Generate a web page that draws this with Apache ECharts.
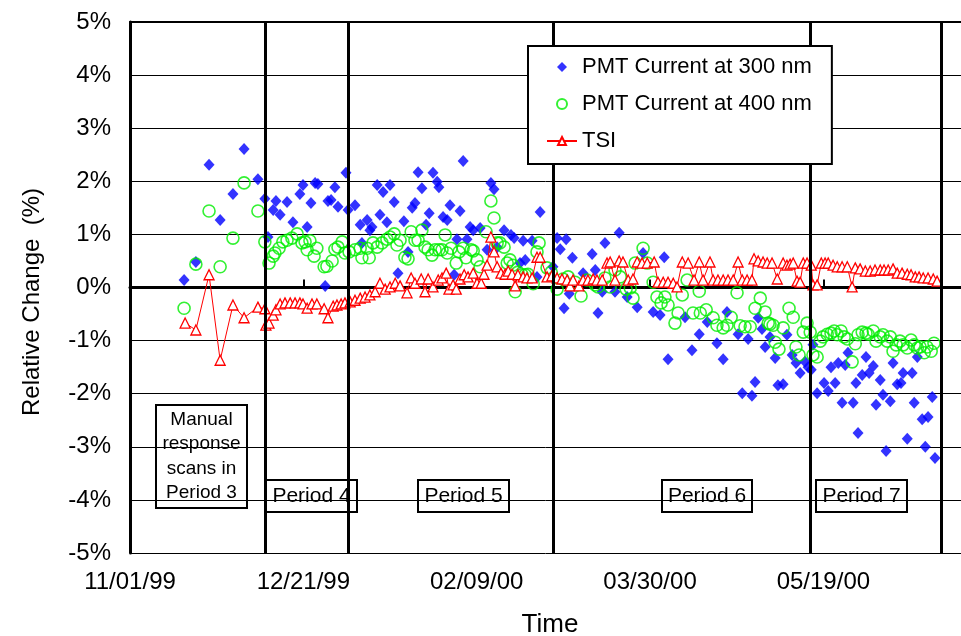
<!DOCTYPE html>
<html>
<head>
<meta charset="utf-8">
<script src="https://cdn.jsdelivr.net/npm/echarts@6/dist/echarts.min.js"></script>
<style>
  html, body { margin: 0; padding: 0; background: #fff; }
  #chart { width: 961px; height: 636px; }
</style>
</head>
<body>
<div id="chart"></div>
<script>
// Time is measured in days since 11/01/99; values are relative change in percent.
const pmt300Days = [15.6,19.0,22.8,26.0,29.7,32.9,36.9,38.9,39.8,41.3,
  42.1,43.3,45.3,47.0,49.0,49.9,51.1,52.2,53.4,54.2,
  56.3,57.1,58.0,59.1,60.0,62.3,62.9,64.9,66.4,66.9,
  68.4,69.2,69.8,71.3,72.1,73.0,74.1,75.0,76.2,77.3,
  79.0,80.2,81.4,82.2,83.1,84.2,85.4,86.3,87.4,88.6,
  89.1,90.3,91.5,92.3,93.5,94.3,95.2,96.1,97.2,98.1,
  99.0,101.0,103.0,104.1,105.0,105.9,107.9,109.9,110.8,112.5,
  113.4,114.0,116.0,117.4,118.3,122.0,123.2,124.1,125.2,125.8,
  126.7,127.6,130.7,133.3,134.2,135.0,136.2,137.0,139.9,141.1,
  143.4,146.3,148.0,150.9,152.9,154.1,155.2,160.1,162.1,164.2,
  166.5,169.3,171.1,172.2,175.4,176.6,178.3,179.4,180.3,181.2,
  182.3,183.2,184.6,186.1,186.9,188.4,189.5,191.0,192.1,193.3,
  194.7,195.6,196.5,197.0,198.2,200.2,201.4,202.2,203.4,204.3,
  205.4,206.3,207.1,208.6,209.4,210.0,211.2,212.3,213.2,214.4,
  215.2,216.4,217.2,218.1,219.3,220.1,221.3,222.4,223.0,224.2,
  225.6,226.2,227.1,228.5,229.4,230.2,231.4,232.2];
const pmt300Values = [0.14,0.48,2.31,1.27,1.76,2.61,2.04,1.67,0.95,1.46,
  1.63,1.37,1.61,1.23,1.76,1.93,1.14,1.59,1.97,1.95,
  0.03,1.63,1.65,1.89,1.52,2.16,1.46,1.55,1.18,0.84,
  1.27,1.08,1.14,1.93,1.37,1.80,1.23,1.93,1.61,0.27,
  1.25,0.67,1.50,1.59,2.17,1.87,1.18,1.40,2.16,1.99,
  1.89,1.33,1.27,1.55,0.24,0.91,1.44,2.38,0.91,1.14,
  1.08,1.12,0.71,1.97,1.85,0.76,1.08,0.99,0.93,0.46,
  0.88,0.52,0.88,0.20,1.42,0.39,0.93,0.72,-0.39,0.91,
  -0.12,0.56,0.27,0.63,0.33,-0.48,-0.08,0.84,-0.08,1.03,
  -0.18,-0.37,0.65,-0.46,-0.52,0.57,-1.35,-0.56,-1.18,-0.88,
  -0.65,-1.05,-1.35,-0.46,-0.88,-1.99,-0.97,-2.04,-1.78,-0.57,
  -0.78,-1.12,-0.93,-1.33,-1.84,-1.82,-0.89,-1.27,-1.42,-1.61,
  -1.40,-1.50,-1.55,-1.08,-1.99,-1.80,-1.95,-1.50,-1.80,-1.42,
  -2.17,-1.46,-1.23,-2.17,-1.80,-2.74,-1.65,-1.31,-1.61,-1.48,
  -2.21,-1.74,-2.02,-3.08,-2.14,-1.42,-1.82,-1.80,-1.61,-2.85,
  -1.61,-2.17,-1.31,-2.48,-3.00,-2.44,-2.06,-3.21];

const pmt400Days = [15.6,19.0,22.8,26.0,29.7,32.9,36.9,38.9,40.1,41.3,
  41.8,43.0,44.1,45.3,46.7,48.2,49.6,50.5,51.1,51.9,
  53.1,53.9,56.0,56.8,58.3,59.1,60.0,61.2,62.0,63.2,
  64.9,66.4,66.9,68.4,69.0,70.1,71.3,72.7,74.1,75.0,
  76.2,77.0,77.9,79.3,80.2,81.1,82.2,83.1,84.2,85.1,
  86.0,87.1,88.0,89.1,90.0,90.9,91.5,92.6,94.1,94.9,
  96.1,96.9,98.4,99.0,100.1,101.0,102.7,104.1,105.0,105.9,
  106.7,107.9,108.8,109.6,110.5,111.1,111.9,113.1,114.0,114.8,
  116.3,117.4,118.0,120.3,121.5,123.2,124.9,126.4,128.4,130.1,
  131.8,134.2,135.0,137.0,138.5,139.9,141.4,143.1,144.3,145.1,
  145.7,148.0,149.2,150.9,152.0,153.2,154.3,155.2,157.2,158.1,
  159.3,160.7,162.4,164.2,164.5,166.2,168.2,169.3,171.1,172.2,
  173.4,175.1,176.0,177.4,178.9,180.3,181.8,183.2,184.1,184.6,
  185.5,186.1,187.2,188.4,190.1,191.3,192.1,193.0,194.2,195.3,
  196.2,197.0,198.2,199.1,199.9,201.1,202.2,203.1,204.0,205.1,
  206.0,206.9,208.3,209.2,210.0,211.2,212.3,212.9,214.4,215.2,
  216.4,217.2,218.4,219.3,220.1,221.0,222.1,223.0,224.2,225.3,
  226.2,227.1,227.9,229.1,229.9,231.1,231.9];
const pmt400Values = [-0.39,0.44,1.44,0.39,0.93,1.97,1.44,0.86,0.46,0.59,
  0.65,0.74,0.86,0.89,0.93,1.01,0.84,0.86,0.71,0.88,
  0.59,0.74,0.39,0.40,0.50,0.72,0.76,0.86,0.65,0.67,
  0.71,0.74,0.56,0.74,0.56,0.84,0.76,0.84,0.91,0.95,
  1.01,0.80,0.89,0.57,0.54,1.05,0.89,0.89,1.08,0.76,
  0.71,0.61,0.71,0.71,0.71,0.99,0.65,0.74,0.46,0.67,
  0.74,0.56,0.71,0.69,0.52,0.39,1.05,1.63,1.31,0.84,
  0.84,0.76,0.46,0.52,0.42,-0.08,0.29,0.24,0.24,0.25,
  0.07,0.67,0.84,0.37,0.29,-0.03,0.16,0.20,0.10,-0.16,
  0.14,0.05,0.01,0.18,0.01,0.33,0.20,-0.03,-0.01,-0.20,
  0.46,0.74,0.46,0.10,-0.18,-0.29,-0.18,-0.33,-0.67,-0.48,
  -0.14,0.14,-0.48,-0.07,-0.48,-0.42,-0.57,-0.71,-0.76,-0.71,
  -0.56,-0.10,-0.72,-0.74,-0.74,-0.39,-0.20,-0.46,-0.67,-0.69,
  -0.71,-1.03,-1.16,-0.76,-0.39,-0.56,-1.12,-1.27,-0.84,-0.67,
  -0.84,-1.27,-1.31,-1.01,-0.93,-0.88,-0.86,-0.82,-0.89,-0.82,
  -0.93,-0.97,-1.40,-1.06,-0.89,-0.84,-0.86,-0.88,-0.82,-1.01,
  -0.93,-0.89,-1.01,-0.93,-1.20,-1.08,-1.01,-1.08,-1.14,-0.99,
  -1.08,-1.14,-1.12,-1.23,-1.12,-1.20,-1.05];

const tsiDays = [15.9,19.0,22.8,26.0,29.7,32.9,36.9,38.9,39.2,40.1,
  41.3,42.1,43.3,44.7,46.2,47.6,49.0,49.9,51.1,52.5,
  53.9,56.0,57.1,58.6,59.7,60.9,62.0,63.5,64.9,66.4,
  67.8,69.2,70.7,72.1,73.6,75.0,76.5,77.9,79.9,81.1,
  82.2,84.0,85.1,86.0,87.4,88.9,90.0,91.2,92.0,93.2,
  94.1,95.2,96.4,97.5,99.0,100.1,101.3,102.1,103.0,104.1,
  105.0,105.9,107.0,108.2,109.1,110.2,111.1,111.9,113.4,114.5,
  116.0,117.4,118.3,120.3,121.7,123.2,124.6,126.1,126.9,127.8,
  129.5,130.7,132.1,133.6,134.7,136.2,137.6,138.5,139.9,141.1,
  142.2,143.7,145.1,146.3,147.7,149.2,151.2,152.3,153.8,155.2,
  156.7,157.8,159.3,161.0,162.7,164.2,165.3,167.3,168.2,169.6,
  171.1,172.5,174.0,175.4,176.6,178.0,179.4,180.0,181.2,182.6,
  183.8,185.2,186.7,188.4,189.5,190.4,191.3,192.4,193.3,194.2,
  195.3,196.5,197.0,198.2,199.4,200.5,201.4,202.8,204.0,205.4,
  206.9,208.3,209.2,210.6,212.1,213.5,214.9,216.4,217.5,218.7,
  220.1,221.3,222.7,224.2,225.3,226.5,227.6,228.8,230.2,231.7,
  232.8];
const tsiValues = [-0.67,-0.80,0.24,-1.37,-0.33,-0.57,-0.37,-0.40,-0.71,-0.67,
  -0.52,-0.42,-0.31,-0.29,-0.29,-0.29,-0.29,-0.31,-0.39,-0.31,
  -0.31,-0.40,-0.57,-0.35,-0.33,-0.31,-0.29,-0.27,-0.24,-0.20,
  -0.18,-0.14,-0.08,0.08,-0.03,0.01,0.08,0.03,-0.10,0.18,
  0.08,0.16,-0.08,0.16,0.01,0.14,0.18,0.27,-0.03,0.05,
  -0.03,0.16,0.24,0.20,0.27,0.08,0.08,0.25,0.42,0.95,
  0.67,0.39,0.27,0.25,0.31,0.25,0.03,0.24,0.20,0.18,
  0.18,0.57,0.57,0.20,0.22,0.18,0.16,0.14,0.03,0.14,
  0.03,0.14,0.14,0.16,0.14,0.14,0.46,0.48,0.14,0.50,
  0.48,0.14,0.16,0.48,0.46,0.46,0.48,0.10,0.10,0.10,
  0.08,0.01,0.48,0.46,0.14,0.48,0.14,0.48,0.14,0.14,
  0.14,0.14,0.14,0.48,0.14,0.14,0.14,0.54,0.50,0.48,
  0.46,0.46,0.16,0.46,0.42,0.44,0.46,0.12,0.10,0.46,
  0.46,0.42,0.05,0.05,0.46,0.46,0.46,0.42,0.39,0.39,
  0.39,0.01,0.37,0.35,0.31,0.31,0.33,0.33,0.33,0.33,
  0.35,0.27,0.27,0.25,0.24,0.20,0.20,0.18,0.18,0.16,
  0.12];

// Boundaries between instrument periods (days since 11/01/99)
const periodBoundaryDays = [39.1, 63.0, 122.1, 196.1, 234.1];

const yTicks = [-5, -4, -3, -2, -1, 0, 1, 2, 3, 4, 5];
// Visible time span, in days after 11/01/99
const xSpanDays = 239.7;
const FONT = "'Liberation Sans', Arial, sans-serif";
// Square diamond outline for the legend key (kept at its aspect ratio)
const DIAMOND_ICON = 'path://M5,0L10,5L5,10L0,5Z';

function dayToLabel(day) {
  const d = new Date(1999, 10, 1 + Math.round(day));
  const mm = String(d.getMonth() + 1).padStart(2, '0');
  const dd = String(d.getDate()).padStart(2, '0');
  const yy = String(d.getFullYear() % 100).padStart(2, '0');
  return mm + '/' + dd + '/' + yy;
}
const zip = (xs, ys) => xs.map((x, i) => [x, ys[i]]);

function boxLabel(x, y, w, h, lines, fontSize, lineH) {
  const children = [{
    type: 'rect', shape: { x: x, y: y, width: w, height: h },
    style: { fill: '#fff', stroke: '#000', lineWidth: 2 }
  }];
  const top = y + h / 2 - (lines.length * lineH) / 2;
  lines.forEach((t, i) => {
    children.push({
      type: 'text', x: x + w / 2, y: top + lineH * i + lineH / 2,
      style: { text: t, font: fontSize + 'px ' + FONT, fill: '#000',
               textAlign: 'center', textVerticalAlign: 'middle' }
    });
  });
  return { type: 'group', z: 100, children: children };
}

const chart = echarts.init(document.getElementById('chart'), null, { renderer: 'canvas' });

chart.setOption({
  animation: false,
  backgroundColor: '#fff',
  textStyle: { fontFamily: FONT },
  grid: { left: 130, top: 22, right: 0, bottom: 83, show: false },
  legend: {
    orient: 'vertical', left: 528, top: 46,
    padding: [10, 20, 12, 18], itemGap: 15, itemWidth: 30, itemHeight: 10,
    symbolKeepAspect: true,
    borderColor: '#000', borderWidth: 2, backgroundColor: '#fff', z: 50,
    textStyle: { fontSize: 22, color: '#000', fontFamily: FONT },
    data: [
      { name: 'PMT Current at 300 nm', icon: DIAMOND_ICON },
      { name: 'PMT Current at 400 nm' },
      { name: 'TSI' }
    ]
  },
  xAxis: [
    {
      type: 'value', min: 0, max: xSpanDays, interval: 50,
      axisLine: { show: true, lineStyle: { color: '#000', width: 3 } },
      axisTick: { show: true, inside: true, length: 8, lineStyle: { color: '#000', width: 2 } },
      axisLabel: {
        show: true, margin: 17, fontSize: 24, color: '#000', fontFamily: FONT,
        showMaxLabel: false, formatter: v => (v % 50 === 0 ? dayToLabel(v) : '')
      },
      splitLine: { show: false }
    },
    {
      // frame line along the top of the plot
      type: 'value', position: 'top', min: 0, max: xSpanDays,
      axisLine: { show: true, lineStyle: { color: '#000', width: 2 } },
      axisTick: { show: false }, axisLabel: { show: false }, splitLine: { show: false }
    }
  ],
  yAxis: {
    type: 'value', min: yTicks[0], max: yTicks[yTicks.length - 1], interval: 1,
    axisLine: { show: true, lineStyle: { color: '#000', width: 3 } },
    axisTick: { show: true, inside: true, length: 8, lineStyle: { color: '#000', width: 1 } },
    axisLabel: { margin: 19, fontSize: 24, color: '#000', fontFamily: FONT, formatter: v => v + '%' },
    splitLine: { show: true, lineStyle: { color: '#000', width: 1 } }
  },
  series: [
    {
      name: 'PMT Current at 300 nm', type: 'scatter',
      symbol: 'diamond', symbolSize: [11, 12],
      itemStyle: { color: '#0000ff' },
      data: zip(pmt300Days, pmt300Values),
      markLine: {
        silent: true, symbol: 'none', animation: false,
        label: { show: false },
        lineStyle: { color: '#000', width: 3, type: 'solid' },
        data: periodBoundaryDays.map(d => ({ xAxis: d }))
      }
    },
    {
      name: 'PMT Current at 400 nm', type: 'scatter',
      symbol: 'circle', symbolSize: 12,
      itemStyle: { color: 'rgba(255,255,255,0)', borderColor: '#00ee00', borderWidth: 1.6 },
      data: zip(pmt400Days, pmt400Values)
    },
    {
      name: 'TSI', type: 'line',
      symbol: 'triangle', symbolSize: 10, showAllSymbol: true,
      lineStyle: { color: '#ff0000', width: 1 },
      itemStyle: { color: '#ffffff', borderColor: '#ff0000', borderWidth: 1.3 },
      data: zip(tsiDays, tsiValues)
    }
  ],
  graphic: [
    {
      type: 'text', x: 550, y: 625, z: 100,
      style: { text: 'Time', font: '26px ' + FONT, fill: '#000',
               textAlign: 'center', textVerticalAlign: 'middle' }
    },
    {
      type: 'text', x: 32, y: 302, rotation: Math.PI / 2, z: 100,
      style: { text: 'Relative Change  (%)', font: '24px ' + FONT, fill: '#000',
               textAlign: 'center', textVerticalAlign: 'middle' }
    },
    boxLabel(156, 405, 91, 103, ['Manual', 'response', 'scans in', 'Period 3'], 19, 24.5),
    boxLabel(266, 480, 91, 32, ['Period 4'], 21, 24),
    boxLabel(418, 480, 91, 32, ['Period 5'], 21, 24),
    boxLabel(662, 480, 90, 32, ['Period 6'], 21, 24),
    boxLabel(816, 480, 91, 32, ['Period 7'], 21, 24)
  ]
});
</script>
</body>
</html>
